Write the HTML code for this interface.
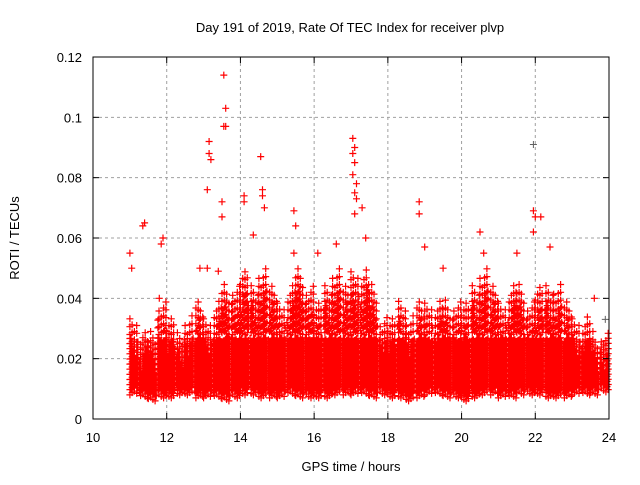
<!DOCTYPE html>
<html><head><meta charset="utf-8"><style>
body{margin:0;background:#fff}
svg text{font-family:"Liberation Sans",sans-serif;font-size:13px;fill:#000}
</style></head><body>
<svg id="chart" width="640" height="480" viewBox="0 0 640 480" xmlns="http://www.w3.org/2000/svg">
<rect width="640" height="480" fill="#fff"/>
<g id="grid"></g>
<g id="marks"></g>
<rect x="93" y="57" width="516" height="362" fill="none" stroke="#000" stroke-width="1"/>
<g id="ticks"></g>
<text x="350" y="32" text-anchor="middle">Day 191 of 2019, Rate Of TEC Index for receiver plvp</text>
<text x="351" y="471" text-anchor="middle">GPS time / hours</text>
<text transform="translate(19,238) rotate(-90)" text-anchor="middle">ROTI / TECUs</text>
</svg>
<script>
const xTicks=[10,12,14,16,18,20,22,24];
const yTicks=[0,0.02,0.04,0.06,0.08,0.1,0.12];
const yTickLabels=["0","0.02","0.04","0.06","0.08","0.1","0.12"];
const binStart=[11.0,11.25,11.5,11.75,12.0,12.25,12.5,12.75,13.0,13.25,13.5,13.75,14.0,14.25,14.5,14.75,15.0,15.25,15.5,15.75,16.0,16.25,16.5,16.75,17.0,17.25,17.5,17.75,18.0,18.25,18.5,18.75,19.0,19.25,19.5,19.75,20.0,20.25,20.5,20.75,21.0,21.25,21.5,21.75,22.0,22.25,22.5,22.75,23.0,23.25,23.5,23.75];
const binHigh=[0.035,0.03,0.03,0.04,0.035,0.03,0.035,0.04,0.035,0.04,0.045,0.045,0.05,0.045,0.05,0.045,0.04,0.045,0.05,0.045,0.04,0.045,0.05,0.045,0.05,0.05,0.045,0.035,0.035,0.04,0.035,0.04,0.04,0.04,0.04,0.04,0.04,0.045,0.05,0.045,0.04,0.045,0.045,0.04,0.045,0.045,0.045,0.04,0.035,0.035,0.03,0.03];
const binLow=[0.008,0.007,0.006,0.007,0.007,0.008,0.008,0.007,0.007,0.007,0.006,0.007,0.008,0.008,0.007,0.007,0.007,0.008,0.007,0.007,0.007,0.007,0.008,0.008,0.008,0.008,0.007,0.008,0.007,0.007,0.006,0.007,0.008,0.008,0.007,0.007,0.006,0.007,0.008,0.008,0.007,0.007,0.008,0.008,0.008,0.007,0.007,0.007,0.008,0.008,0.008,0.009];
const colOffset=[0,0.007,0.003,0.011,0.005,0.014,0.002,0.009];
const outX=[11.0,11.05,11.4,11.35,11.9,11.85,13.15,13.15,13.2,13.1,13.55,13.6,13.6,13.55,13.5,13.5,13.1,14.1,14.1,14.55,14.6,14.6,14.65,15.45,15.5,17.05,17.1,17.05,17.1,17.05,17.15,17.1,17.15,17.1,17.3,18.85,18.85,19.0,20.5,21.95,21.95,22.0,22.15,21.95,22.4,11.8,12.9,14.35,15.45,16.1,16.6,17.4,19.5,20.6,21.5,23.6,23.9,13.4];
const outY=[0.055,0.05,0.065,0.064,0.06,0.058,0.092,0.088,0.086,0.076,0.114,0.103,0.097,0.097,0.072,0.067,0.05,0.074,0.072,0.087,0.076,0.074,0.07,0.069,0.064,0.093,0.09,0.088,0.085,0.081,0.078,0.075,0.073,0.068,0.07,0.072,0.068,0.057,0.062,0.091,0.069,0.067,0.067,0.062,0.057,0.04,0.05,0.061,0.055,0.055,0.058,0.06,0.05,0.055,0.055,0.04,0.033,0.049];

const X=h=>93+(h-10)*516/14;
const Y=v=>419-v*362/0.12;
const NS="http://www.w3.org/2000/svg";
const grid=document.getElementById('grid'),ticks=document.getElementById('ticks'),marks=document.getElementById('marks');
function mk(tag,attrs,parent){const e=document.createElementNS(NS,tag);for(const k in attrs)e.setAttribute(k,attrs[k]);parent.appendChild(e);return e;}
xTicks.forEach((t,i)=>{
  const x=X(t);
  if(i>0&&i<xTicks.length-1){const g=mk('line',{x1:x,y1:57,x2:x,y2:419,stroke:'#a0a0a0','stroke-dasharray':'3,3'},grid);
  
  }
  mk('line',{x1:x,y1:419,x2:x,y2:413,stroke:'#000'},ticks);mk('line',{x1:x,y1:57,x2:x,y2:63,stroke:'#000'},ticks);
  const l=mk('text',{x:x,y:442,'text-anchor':'middle'},ticks);l.textContent=t;
  
  
});
yTicks.forEach((t,i)=>{
  const y=Y(t);
  if(i>0&&i<yTicks.length-1){const g=mk('line',{x1:93,y1:y,x2:609,y2:y,stroke:'#a0a0a0','stroke-dasharray':'3,3'},grid);
  
  }
  mk('line',{x1:93,y1:y,x2:99,y2:y,stroke:'#000'},ticks);mk('line',{x1:609,y1:y,x2:603,y2:y,stroke:'#000'},ticks);
  const l=mk('text',{x:82,y:y+5,'text-anchor':'end'},ticks);l.textContent=yTickLabels[i];
  
  
});
function plus(x,y){return `M${(x-3.5).toFixed(1)} ${y.toFixed(1)}h7M${x.toFixed(1)} ${(y-3.5).toFixed(1)}v7`;}
let d='';
binStart.forEach((b,i)=>{
  const lo=binLow[i],hi=binHigh[i];
  for(let c=0;c<8;c++){
    const h=b+c*0.031+(i%2)*0.01;
    if(h>23.98)continue;
    const top=hi-colOffset[(c+i*3)%8];
    const lo2=lo+colOffset[(c+i)%8]*0.25;
    for(let v=lo2;v<=Math.min(top,0.027);v+=0.0017)d+=plus(X(h),Y(v));
    for(let v=0.028+colOffset[(c*5+i)%8]*0.2;v<=top;v+=0.0026)d+=plus(X(h),Y(v));
  }
});
const p=mk('path',{d:d,stroke:'#f00','stroke-width':'1.2',fill:'none'},marks);


let dg='',dr='';
outX.forEach((h,i)=>{const s=plus(X(h),Y(outY[i]));if((h===21.95&&outY[i]===0.091)||(h===23.9))dg+=s;else dr+=s;});
const po=mk('path',{d:dr,stroke:'#f00','stroke-width':'1.2',fill:'none'},marks);


const pg=mk('path',{d:dg,stroke:'#606060','stroke-width':'1',fill:'none'},marks);


</script>
</body></html>
